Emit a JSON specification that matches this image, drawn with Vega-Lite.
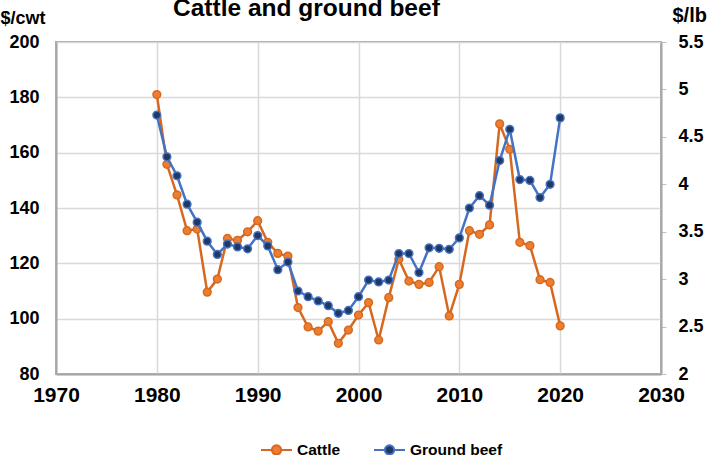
{
  "$schema": "https://vega.github.io/schema/vega-lite/v6.json",
  "width": 605,
  "height": 332,
  "autosize": "none",
  "padding": {"left": 56, "top": 42, "right": 48, "bottom": 81},
  "background": "white",
  "title": {
    "text": "Cattle and ground beef",
    "font": "Liberation Sans",
    "fontSize": 24.5,
    "fontWeight": "bold",
    "color": "#000000",
    "anchor": "start",
    "frame": "group",
    "dx": 117,
    "dy": 20,
    "offset": 4
  },
  "config": {
    "font": "Liberation Sans",
    "view": {"stroke": "#a6a6a6", "strokeWidth": 2},
    "axis": {
      "labelFont": "Liberation Sans",
      "labelFontWeight": "bold",
      "labelColor": "#000000",
      "titleFont": "Liberation Sans",
      "titleFontWeight": "bold",
      "titleColor": "#000000",
      "gridColor": "#d9d9d9",
      "gridWidth": 1.5,
      "domainColor": "#a6a6a6",
      "domainWidth": 2,
      "tickColor": "#bfbfbf"
    }
  },
  "data": {
    "values": [
      {"year": 1980, "cattle": 181.0, "beef": 4.73},
      {"year": 1981, "cattle": 155.8, "beef": 4.29},
      {"year": 1982, "cattle": 144.7, "beef": 4.09},
      {"year": 1983, "cattle": 131.8, "beef": 3.79},
      {"year": 1984, "cattle": 132.4, "beef": 3.60},
      {"year": 1985, "cattle": 109.6, "beef": 3.40},
      {"year": 1986, "cattle": 114.3, "beef": 3.26},
      {"year": 1987, "cattle": 129.0, "beef": 3.37},
      {"year": 1988, "cattle": 128.3, "beef": 3.34},
      {"year": 1989, "cattle": 131.4, "beef": 3.32},
      {"year": 1990, "cattle": 135.4, "beef": 3.46},
      {"year": 1991, "cattle": 127.6, "beef": 3.35},
      {"year": 1992, "cattle": 123.6, "beef": 3.10},
      {"year": 1993, "cattle": 122.6, "beef": 3.18},
      {"year": 1994, "cattle": 104.0, "beef": 2.875},
      {"year": 1995, "cattle": 97.0, "beef": 2.815},
      {"year": 1996, "cattle": 95.5, "beef": 2.77},
      {"year": 1997, "cattle": 98.9, "beef": 2.72},
      {"year": 1998, "cattle": 91.1, "beef": 2.64},
      {"year": 1999, "cattle": 95.9, "beef": 2.67},
      {"year": 2000, "cattle": 101.3, "beef": 2.815},
      {"year": 2001, "cattle": 105.8, "beef": 2.99},
      {"year": 2002, "cattle": 92.3, "beef": 2.97},
      {"year": 2003, "cattle": 107.6, "beef": 2.99},
      {"year": 2004, "cattle": 121.5, "beef": 3.27},
      {"year": 2005, "cattle": 113.6, "beef": 3.27},
      {"year": 2006, "cattle": 112.4, "beef": 3.07},
      {"year": 2007, "cattle": 113.1, "beef": 3.33},
      {"year": 2008, "cattle": 118.8, "beef": 3.325},
      {"year": 2009, "cattle": 101.0, "beef": 3.315},
      {"year": 2010, "cattle": 112.4, "beef": 3.435},
      {"year": 2011, "cattle": 131.8, "beef": 3.75},
      {"year": 2012, "cattle": 130.5, "beef": 3.88},
      {"year": 2013, "cattle": 133.9, "beef": 3.78},
      {"year": 2014, "cattle": 170.4, "beef": 4.25},
      {"year": 2015, "cattle": 161.2, "beef": 4.58},
      {"year": 2016, "cattle": 127.6, "beef": 4.05},
      {"year": 2017, "cattle": 126.4, "beef": 4.04},
      {"year": 2018, "cattle": 114.1, "beef": 3.86},
      {"year": 2019, "cattle": 113.1, "beef": 4.00},
      {"year": 2020, "cattle": 97.4, "beef": 4.70}
    ]
  },
  "encoding": {
    "x": {
      "field": "year",
      "type": "quantitative",
      "scale": {"domain": [1970, 2030], "nice": false, "zero": false},
      "axis": {
        "title": null,
        "values": [1970, 1980, 1990, 2000, 2010, 2020, 2030],
        "format": "d",
        "labelFontSize": 21,
        "labelPadding": 10,
        "ticks": false,
        "grid": true,
        "labelFlush": false
      }
    }
  },
  "layer": [
    {
      "encoding": {
        "y": {
          "field": "cattle",
          "type": "quantitative",
          "scale": {"domain": [80, 200], "nice": false, "zero": false},
          "axis": {
            "title": "$/cwt",
            "titleAngle": 0,
            "titleAlign": "left",
            "titleBaseline": "alphabetic",
            "titleX": -56,
            "titleY": -19,
            "titleFontSize": 18,
            "values": [80, 100, 120, 140, 160, 180, 200],
            "labelFontSize": 18,
            "labelPadding": 17,
            "ticks": false,
            "grid": true
          }
        }
      },
      "layer": [
        {
          "mark": {"type": "line", "strokeWidth": 2.5},
          "encoding": {
            "color": {
              "datum": "Cattle",
              "type": "nominal",
              "scale": {"domain": ["Cattle", "Ground beef"], "range": ["#D6691F", "#4472C4"]},
              "legend": {
                "title": null,
                "orient": "none",
                "direction": "horizontal",
                "legendX": 204,
                "legendY": 391,
                "symbolType": "M-1,0L-0.3,0M0.3,0L1,0M-0.3,0A0.3,0.3,0,1,1,0.3,0A0.3,0.3,0,1,1,-0.3,0Z",
                "symbolSize": 961,
                "symbolStrokeWidth": 2,
                "labelFont": "Liberation Sans",
                "labelFontSize": 15.5,
                "labelFontWeight": "bold",
                "labelColor": "#000000",
                "labelOffset": 4,
                "columnPadding": 29,
                "encode": {
                  "symbols": {
                    "update": {
                      "fill": {"signal": "datum.value === 'Cattle' ? '#ED7D31' : '#1F3864'"},
                      "fillOpacity": {"value": 1}
                    }
                  }
                }
              }
            }
          }
        },
        {
          "mark": {"type": "point", "shape": "circle", "filled": true, "size": 60, "fill": "#ED7D31", "stroke": "#D6691F", "strokeWidth": 1.5, "opacity": 1}
        }
      ]
    },
    {
      "encoding": {
        "y": {
          "field": "beef",
          "type": "quantitative",
          "scale": {"domain": [2, 5.5], "nice": false, "zero": false},
          "axis": {
            "orient": "right",
            "title": "$/lb",
            "titleAngle": 0,
            "titleAlign": "left",
            "titleBaseline": "alphabetic",
            "titleX": 11,
            "titleY": -21,
            "titleFontSize": 20,
            "values": [2, 2.5, 3, 3.5, 4, 4.5, 5, 5.5],
            "format": "~g",
            "labelFontSize": 18,
            "labelPadding": 12,
            "ticks": true,
            "tickSize": 5,
            "grid": false
          }
        }
      },
      "layer": [
        {
          "mark": {"type": "line", "strokeWidth": 2.5},
          "encoding": {"color": {"datum": "Ground beef", "type": "nominal"}}
        },
        {
          "mark": {"type": "point", "shape": "circle", "filled": true, "size": 60, "fill": "#1F3864", "stroke": "#4472C4", "strokeWidth": 1.5, "opacity": 1}
        }
      ]
    }
  ],
  "resolve": {"scale": {"y": "independent"}}
}
